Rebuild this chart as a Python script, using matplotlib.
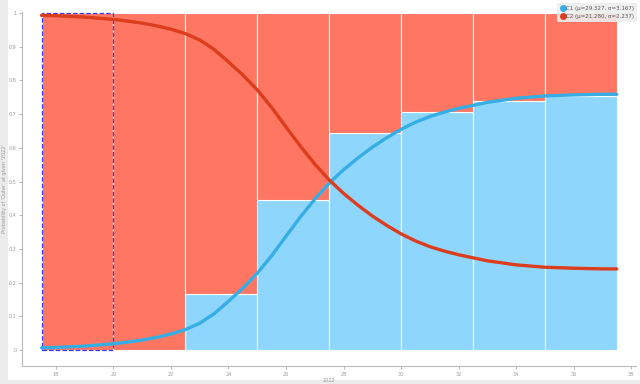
import matplotlib.pyplot as plt
import matplotlib.patches as mpatches
from matplotlib.lines import Line2D

# bins (left edges) and share of C1 in each bin
bin_left = [17.5, 20, 22.5, 25, 27.5, 30, 32.5, 35]
bin_width = 2.5
c1_share = [0.0, 0.0, 0.166, 0.445, 0.643, 0.707, 0.739, 0.754]

# curves
curve_x = [17.5, 18, 19, 20, 20.5, 21, 21.5, 22, 22.5, 23, 23.5, 24, 24.5, 25,
           25.5, 26, 26.5, 27, 27.5, 28, 28.5, 29, 29.5, 30, 30.5, 31, 31.5,
           32, 33, 34, 35, 36, 37, 37.5]
c1_prob = [0.007, 0.008, 0.012, 0.019, 0.024, 0.03, 0.038, 0.048, 0.061, 0.08,
           0.108, 0.145, 0.184, 0.228, 0.28, 0.338, 0.395, 0.448, 0.495, 0.535,
           0.57, 0.602, 0.630, 0.655, 0.676, 0.693, 0.706, 0.717, 0.735,
           0.747, 0.754, 0.757, 0.759, 0.759]
c2_prob = [0.993, 0.992, 0.988, 0.981, 0.976, 0.97, 0.962, 0.952, 0.939, 0.92,
           0.892, 0.855, 0.816, 0.772, 0.72, 0.662, 0.605, 0.552, 0.505, 0.465,
           0.43, 0.398, 0.370, 0.345, 0.324, 0.307, 0.294, 0.283, 0.265,
           0.253, 0.246, 0.243, 0.241, 0.241]

legend_labels = ["C1 (μ=29.327, σ=3.167)", "C2 (μ=21.280, σ=2.237)"]
x_ticks = list(range(18, 39, 2))
y_ticks = [i / 10 for i in range(11)]

blue_bar = "#8fd6fd"
red_bar = "#ff7662"
blue_line = "#35aee6"
red_line = "#dc3d1c"
gray = "#999999"

fig = plt.figure(figsize=(6.4, 3.84), dpi=100)
fig.patch.set_facecolor("#ececec")

# white panel behind the plot
fig.patches.append(mpatches.Rectangle((8 / 640, 4 / 384), 1, 1, transform=fig.transFigure,
                                      facecolor="white", edgecolor="none", zorder=-5))

ax = fig.add_axes([22 / 640, 18 / 384, 614 / 640, 354 / 384], zorder=1)
ax.set_facecolor("none")

red_h = [1 - s for s in c1_share]
ax.bar(bin_left, c1_share, width=bin_width, align="edge", color=blue_bar,
       edgecolor="white", linewidth=0.8, zorder=1)
ax.bar(bin_left, red_h, width=bin_width, bottom=c1_share, align="edge", color=red_bar,
       edgecolor="white", linewidth=0.8, zorder=1)
# selected bin outline
ax.bar(bin_left[0], 1, width=bin_width, align="edge", fill=False,
       edgecolor="#3a3aff", linestyle="--", linewidth=0.9, zorder=2)

ax.plot(curve_x, c1_prob, color=blue_line, linewidth=2.4, solid_capstyle="round",
        solid_joinstyle="round", zorder=3)
ax.plot(curve_x, c2_prob, color=red_line, linewidth=2.4, solid_capstyle="round",
        solid_joinstyle="round", zorder=3)

ax.set_xlim(16.82, 38.17)
ax.set_ylim(-0.047, 1.003)
ax.set_xticks(x_ticks)
ax.set_yticks(y_ticks)
ax.set_yticklabels(["0" if v == 0 else ("1" if v == 1 else f"{v:.1f}") for v in y_ticks])
ax.tick_params(labelsize=3.5, colors=gray, length=2, width=0.5, pad=2)
for s in ["top", "right"]:
    ax.spines[s].set_visible(False)
for s in ["left", "bottom"]:
    ax.spines[s].set_color("#bbbbbb")
    ax.spines[s].set_linewidth(0.8)

ax.set_xlabel("2022", fontsize=3.5, color=gray, labelpad=1)
ax.set_ylabel("Probability of 'Outer' at given '2022'", fontsize=3.5, color=gray, labelpad=1)

handles = [Line2D([], [], marker="o", linestyle="none", color=blue_line, markersize=4),
           Line2D([], [], marker="o", linestyle="none", color=red_line, markersize=4)]
fig.legend(handles, legend_labels, loc="upper right", bbox_to_anchor=(1.0, 1.0),
           fontsize=4, frameon=True, facecolor="#eeeeee", edgecolor="none",
           framealpha=0.9, handletextpad=0.2, borderpad=0.5, labelspacing=0.6,
           handlelength=1.0, labelcolor="#555555")

fig.savefig("out.png", dpi=100, facecolor=fig.get_facecolor())
